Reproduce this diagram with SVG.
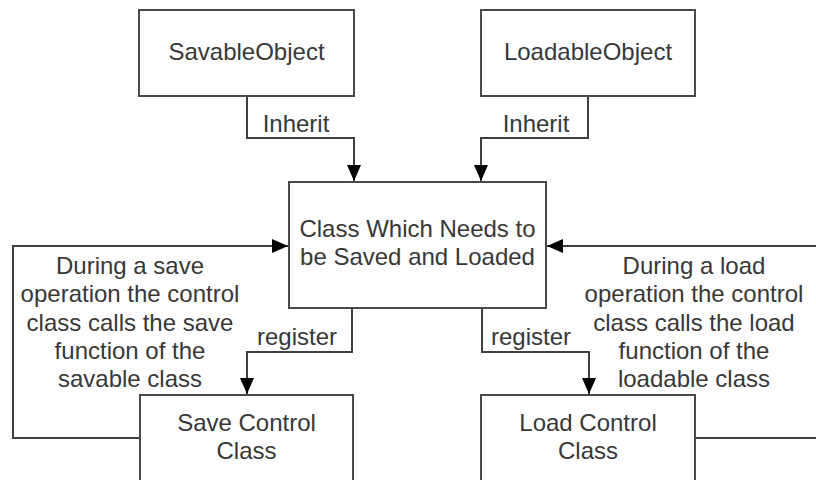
<svg xmlns="http://www.w3.org/2000/svg" width="816" height="480" viewBox="0 0 816 480">
  <style>
    .box { fill: #ffffff; stroke: #4a4a4a; stroke-width: 2; }
    .wire { fill: none; stroke: #404040; stroke-width: 2; }
    text { font-family: "Liberation Sans", Arial, sans-serif; font-size: 24px; fill: #383838; text-anchor: middle; }
  </style>
  <defs>
    <marker id="arrow" viewBox="0 0 16 14" refX="16" refY="7" markerWidth="16" markerHeight="14" markerUnits="userSpaceOnUse" orient="auto">
      <path d="M0,0 L16,7 L0,14 Z" fill="#000000"/>
    </marker>
  </defs>

  <rect width="816" height="480" fill="#ffffff"/>

  <g id="connectors">
    <path class="wire" d="M247,96 V138 H354 V181" marker-end="url(#arrow)"/>
    <text x="296" y="132">Inherit</text>
    <path class="wire" d="M588,96 V138 H481 V181" marker-end="url(#arrow)"/>
    <text x="536" y="132">Inherit</text>
    <path class="wire" d="M352,308 V352 H247 V394" marker-end="url(#arrow)"/>
    <text x="297" y="345">register</text>
    <path class="wire" d="M482,308 V352 H589 V394" marker-end="url(#arrow)"/>
    <text x="531" y="345">register</text>
    <path class="wire" d="M140,438 H13 V246 H288" marker-end="url(#arrow)"/>
    <text x="130" y="274">During a save</text>
    <text x="130" y="302.3">operation the control</text>
    <text x="130" y="330.5">class calls the save</text>
    <text x="130" y="358.8">function of the</text>
    <text x="130" y="387">savable class</text>
    <path class="wire" d="M695,438 H817 M817,246 H547" marker-end="url(#arrow)"/>
    <text x="694" y="274">During a load</text>
    <text x="694" y="302.3">operation the control</text>
    <text x="694" y="330.5">class calls the load</text>
    <text x="694" y="358.8">function of the</text>
    <text x="694" y="387">loadable class</text>
  </g>

  <g id="savable-object">
    <rect class="box" x="139" y="10" width="215" height="86"/>
    <text x="246.5" y="59.5">SavableObject</text>
  </g>

  <g id="loadable-object">
    <rect class="box" x="481" y="10" width="214" height="86"/>
    <text x="588" y="59.5">LoadableObject</text>
  </g>

  <g id="saved-loaded-class">
    <rect class="box" x="289" y="182" width="257" height="126"/>
    <text x="417.5" y="237">Class Which Needs to</text>
    <text x="417.5" y="265">be Saved and Loaded</text>
  </g>

  <g id="save-control">
    <rect class="box" x="140" y="395" width="213" height="100"/>
    <text x="246.5" y="431">Save Control</text>
    <text x="246.5" y="459">Class</text>
  </g>

  <g id="load-control">
    <rect class="box" x="481" y="395" width="214" height="100"/>
    <text x="588" y="431">Load Control</text>
    <text x="588" y="459">Class</text>
  </g>
</svg>
